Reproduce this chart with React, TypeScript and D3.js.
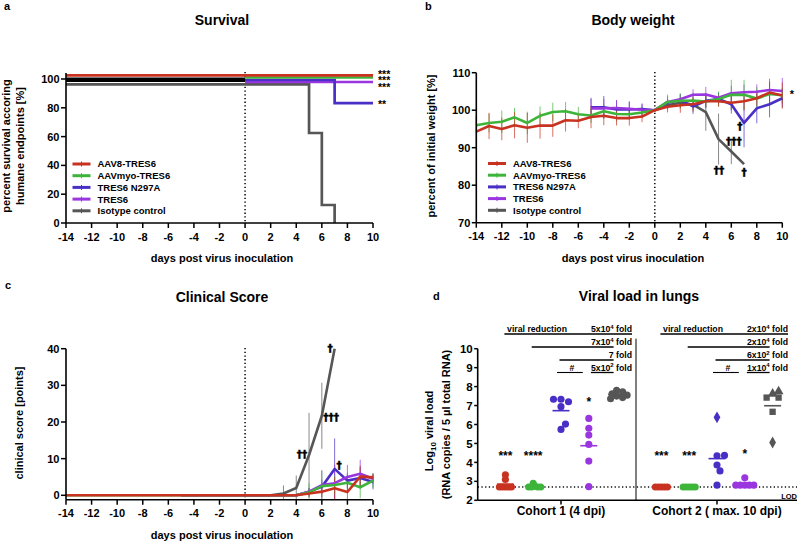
import React, { useEffect } from 'react';
import * as d3 from 'd3';

const FONT = "'Liberation Sans', Arial, Helvetica, sans-serif";
const DAGGER_FONT = "'DejaVu Sans', 'Liberation Sans', sans-serif";

const groupNames = ['AAV8-TRES6', 'AAVmyo-TRES6', 'TRES6 N297A', 'TRES6', 'Isotype control'];
const groupColors = ['#c83220', '#3db53a', '#4a2fc6', '#9a36e0', '#565656'];
const drawOrder = [4, 2, 3, 1, 0];

const dayTicks = [-14, -12, -10, -8, -6, -4, -2, 0, 2, 4, 6, 8, 10];
const daysFull = d3.range(-14, 11);
const daysLate = d3.range(-5, 11);
const daysIso = d3.range(0, 8);

// (a) Survival
const survivalTicks = [0, 20, 40, 60, 80, 100];
const survivalDays = [[-14, 10], [0, 10], [0, 7, 10], [0, 10], [-14, 5, 6, 7]];
const survivalValues = [[100, 100], [100, 100], [100, 83.3, 83.3], [100, 100], [100, 62.5, 12.5, 0]];
const survivalPreDays = [-14, 0];
const survivalStars = ['***', '***', '**', '***', ''];

// (b) Body weight
const weightTicks = [70, 80, 90, 100, 110];
const weightDays = [daysFull, daysFull, daysLate, daysLate, daysIso];
const weightValues = [
  [94.3, 95.8, 95.0, 96.0, 95.3, 95.9, 95.9, 97.3, 97.2, 98.2, 98.5, 97.9, 97.9, 98.3, 100, 100.9, 101.3, 101.6, 102.4, 102.4, 102.0, 102.4, 103.2, 104.7, 103.9],
  [96.0, 96.6, 96.9, 98.1, 96.6, 98.5, 99.5, 99.7, 98.9, 98.6, 99.7, 99.0, 98.9, 99.4, 100, 102.2, 102.5, 102.6, 102.3, 103.0, 104.1, 104.1, 103.1, 104.3, 104.0],
  [100.8, 100.8, 100.2, 100.2, 100.3, 100, 102.0, 102.7, 101.0, 102.5, 103.0, 101.6, 96.6, 100.5, 101.6, 103.2],
  [100.5, 100.5, 100.6, 100.4, 100.1, 100, 102.2, 102.9, 104.1, 104.2, 103.3, 104.5, 104.8, 104.9, 105.4, 105.1],
  [100, 101.3, 102.0, 101.5, 99.5, 92.3, 89.0, 85.6],
];
const weightErrors = [
  [4, 3.5, 3, 3.5, 4, 3.5, 3, 3, 2, 3, 2.5, 2, 2, 1.5, 0, 1.5, 2, 2, 1.5, 1.5, 2, 2.5, 2, 3, 3.5],
  [2.5, 2.5, 3, 2.5, 3, 2.5, 2.5, 2.5, 2, 2, 2, 2, 1.5, 1.5, 0, 2, 2, 2, 1.5, 2, 4, 4, 3, 3, 2],
  [2.5, 3, 2.5, 2, 1.5, 0, 1, 1.5, 2, 2, 1.5, 2.5, 6.5, 4, 3.5, 2.5],
  [2.5, 2.5, 2, 2, 1.5, 0, 1.5, 1.5, 1.5, 2, 1.5, 2, 2, 2, 3, 3.5],
  [0, 1, 1.5, 1.5, 5, 6.8, 3.4, 0],
];
const weightNotes: [number, number, string][] = [
  [6.67, 95.6, '†'], [6.2, 91.8, '†††'], [5.04, 84.0, '††'], [7.0, 83.5, '†'],
];

// (c) Clinical score
const clinicalTicks = [0, 10, 20, 30, 40];
const clinicalDays = [daysFull, daysFull, daysLate, daysLate, daysIso];
const clinicalValues = [
  [0, 0, 0, 0, 0, 0, 0, 0, 0, 0, 0, 0, 0, 0, 0, 0, 0, 0, 0, 0.5, 1.0, 1.9, 0.9, 5.1, 4.9],
  [0, 0, 0, 0, 0, 0, 0, 0, 0, 0, 0, 0, 0, 0, 0, 0, 0, 0, 0, 0.8, 2.5, 2.8, 3.4, 2.2, 4.0],
  [0, 0, 0, 0, 0, 0, 0, 0, 0, 0, 1.0, 2.3, 7.2, 4.0, 4.7, 3.6],
  [0, 0, 0, 0, 0, 0, 0, 0, 0, 0, 1.0, 2.8, 3.3, 5.0, 5.9, 4.5],
  [0, 0, 0, 0.5, 2.0, 11.0, 21.7, 40],
];
const clinicalErrors = [
  [0, 0, 0, 0, 0, 0, 0, 0, 0, 0, 0, 0, 0, 0, 0, 0, 0, 0, 0, 1, 1.5, 3, 2.5, 3, 1],
  [0, 0, 0, 0, 0, 0, 0, 0, 0, 0, 0, 0, 0, 0, 0, 0, 0, 0, 0, 2.5, 4.3, 2.5, 2.5, 3, 2],
  [0, 0, 0, 0, 0, 0, 0, 0, 0, 0, 1, 2, 8.3, 2, 3, 2],
  [0, 0, 0, 0, 0, 0, 0, 0, 0, 0, 1, 4, 5, 3.3, 3.8, 1.5],
  [0, 0, 0, 2.2, 3.4, 11.5, 9, 0],
];
const clinicalNotes: [number, number, string][] = [
  [6.64, 40.1, '†'], [6.72, 21.4, '†††'], [4.45, 11.3, '††'], [7.35, 8.3, '†'],
];

// (d) Viral load
const cohorts = ['Cohort 1 (4 dpi)', 'Cohort 2 ( max. 10 dpi)'];
const viralTicks = [2, 3, 4, 5, 6, 7, 8, 9, 10];
const lod = 2.7;
const viralValues = [
  [
    [3.35, 3.1, 2.7, 2.7, 2.7, 2.7, 2.7],
    [2.9, 2.75, 2.7, 2.7, 2.7, 2.7],
    [7.33, 7.2, 7.33, 6.94, 5.74, 6.02],
    [6.32, 5.8, 5.44, 4.95, 4.07, 2.72],
    [7.8, 7.72, 7.62, 7.55, 7.5, 7.42, 7.36],
  ],
  [
    [2.7, 2.7, 2.7, 2.7, 2.7],
    [2.7, 2.7, 2.7, 2.7, 2.7],
    [6.38, 4.35, 4.37, 3.86, 3.55, 2.8],
    [3.19, 2.8, 2.8, 2.8, 2.8, 2.8],
    [7.62, 7.75, 7.42, 7.42, 6.67, 5.05],
  ],
];
const viralShapes = [
  [['c'], ['c'], ['c'], ['c'], ['c']],
  [['c'], ['c'], ['d', 'c', 'c', 'c', 'c', 'c'], ['c'], ['t', 't', 's', 's', 's', 'd']],
];
const viralMeans = [
  [2.85, 2.74, 6.73, 4.88, 7.58],
  [2.7, 2.7, 4.2, 2.85, 6.99],
];
const viralStars = [
  [['***', 4.46], ['****', 4.46], ['', 0], ['*', 7.3], ['', 0]],
  [['***', 4.46], ['***', 4.46], ['', 0], ['*', 4.56], ['', 0]],
];
const viralSpread = [[3, 3, 6.5, 6.5, 5], [3, 3, 6.5, 3.2, 6]];
const reductionLabels = [
  ['5x10^4', '7x10^4', '7', '5x10^2'],
  ['2x10^4', '2x10^4', '6x10^2', '1x10^4'],
];
const reductionStartGroup = [0, 1, 2];

const bold = { fontWeight: 'bold' as const };

function dodge(values: number[], y: (v: number) => number, minDist: number, step = 1.5) {
  const placed: { x: number; y: number }[] = [];
  return values.map((v) => {
    const py = y(v);
    for (let k = 0; k < 80; k++) {
      const off = k === 0 ? 0 : (k % 2 ? 1 : -1) * Math.ceil(k / 2) * step;
      if (placed.every((p) => Math.hypot(p.x - off, p.y - py) >= minDist - 1e-6)) {
        placed.push({ x: off, y: py });
        return off;
      }
    }
    return 0;
  });
}

function YAxis({ x, y0, y1, ticks, scale, len = 5, size = 11 }: any) {
  return (
    <g>
      <line x1={x} x2={x} y1={y0} y2={y1} stroke="#000" strokeWidth={1.6} />
      {ticks.map((t: number) => (
        <g key={t}>
          <line x1={x - len} x2={x} y1={scale(t)} y2={scale(t)} stroke="#000" strokeWidth={1.5} />
          <text x={x - len - 1.5} y={scale(t)} dy="0.36em" textAnchor="end" fontSize={size} {...bold}>{t}</text>
        </g>
      ))}
    </g>
  );
}

function XAxis({ y, x0, x1, ticks, scale, len = 5, labelDy = 18 }: any) {
  return (
    <g>
      <line x1={x0} x2={x1} y1={y} y2={y} stroke="#000" strokeWidth={1.6} />
      {ticks.map((t: number) => (
        <g key={t}>
          <line x1={scale(t)} x2={scale(t)} y1={y} y2={y + len} stroke="#000" strokeWidth={1.5} />
          <text x={scale(t)} y={y + labelDy} textAnchor="middle" fontSize={11} {...bold}>{t}</text>
        </g>
      ))}
    </g>
  );
}

function Legend({ x, y }: { x: number; y: number }) {
  return (
    <g>
      {groupNames.map((n, i) => {
        const yy = y + i * 11.7;
        return (
          <g key={n}>
            <line x1={x} x2={x + 18} y1={yy} y2={yy} stroke={groupColors[i]} strokeWidth={3} />
            <line x1={x + 9} x2={x + 9} y1={yy - 2.5} y2={yy + 2.5} stroke={groupColors[i]} strokeWidth={1} />
            <text x={x + 25} y={yy} dy="0.36em" fontSize={9.5} {...bold}>{n}</text>
          </g>
        );
      })}
    </g>
  );
}

function RotLabel({ x, y, children, size = 11 }: any) {
  return (
    <text transform={`translate(${x},${y}) rotate(-90)`} textAnchor="middle" fontSize={size} {...bold}>
      {children}
    </text>
  );
}

function Dotted({ x1, x2, y1, y2 }: any) {
  return <line x1={x1} x2={x2} y1={y1} y2={y2} stroke="#111" strokeWidth={1.6} strokeDasharray="1.3 2.4" />;
}

function Dagger({ x, y, s }: any) {
  return (
    <text x={x} y={y} dy="0.35em" textAnchor="middle" fontSize={10.5} fontFamily={DAGGER_FONT} fill="#000"
      stroke="#000" strokeWidth={0.35} {...bold}>{s}</text>
  );
}

function PanelA() {
  const x = d3.scaleLinear().domain([-14, 10]).range([66, 373]);
  const y = d3.scaleLinear().domain([0, 100]).range([223, 79]);
  const offsets = [-3.7, -1.5, 1, 3, 5.3];
  const starShift = [-3.6, 0, -0.7, 2.9, 0];
  const yOf = (v: number, i: number) => (v >= 100 ? y(v) + offsets[i] : y(v));
  const stepPath = (i: number) => {
    const ds = survivalDays[i];
    const vs = survivalValues[i];
    const p = d3.path();
    p.moveTo(x(ds[0]), yOf(vs[0], i));
    for (let k = 1; k < ds.length; k++) {
      p.lineTo(x(ds[k]), yOf(vs[k - 1], i));
      p.lineTo(x(ds[k]), yOf(vs[k], i));
    }
    return p.toString();
  };
  const order = [4, 3, 2, 1];
  const starIdx = survivalStars.map((s, i) => i).filter((i) => survivalStars[i]);
  return (
    <g>
      <text x={4} y={10} fontSize={11} {...bold}>a</text>
      <text x={222} y={25} textAnchor="middle" fontSize={14} {...bold}>Survival</text>
      <Dotted x1={x(0)} x2={x(0)} y1={72} y2={223} />
      {order.map((i) => (
        <path key={i} d={stepPath(i)} fill="none" stroke={groupColors[i]} strokeWidth={2.7} />
      ))}
      <line x1={x(survivalPreDays[0])} x2={x(survivalPreDays[1])} y1={y(100) + 0.8} y2={y(100) + 0.8} stroke="#000" strokeWidth={4.6} />
      <path d={stepPath(0)} fill="none" stroke={groupColors[0]} strokeWidth={2.7} />
      <text fontSize={10.5} {...bold}>
        {starIdx.map((i) => (
          <tspan key={i} x={378} y={yOf(survivalValues[i][survivalValues[i].length - 1], i) + starShift[i] + 6}>
            {survivalStars[i]}
          </tspan>
        ))}
      </text>
      <YAxis x={66} y0={73} y1={223} ticks={survivalTicks} scale={y} />
      <XAxis y={223} x0={66} x1={373} ticks={dayTicks} scale={x} labelDy={17.8} />
      <text x={222} y={262} textAnchor="middle" fontSize={11} {...bold}>days post virus inoculation</text>
      <RotLabel x={10} y={146}>percent survival accoring</RotLabel>
      <RotLabel x={23.5} y={146}>humane endpoints [%]</RotLabel>
      <Legend x={72.5} y={164} />
    </g>
  );
}

function LinePanel({ x, y, days, values, errors, clampMin }: any) {
  const line = d3.line<[number, number]>().x((d) => x(d[0])).y((d) => y(d[1]));
  return (
    <g>
      {drawOrder.map((i) => (
        <g key={i}>
          {days[i].map((d: number, k: number) =>
            errors[i][k] > 0 ? (
              <line key={k} x1={x(d)} x2={x(d)} y1={y(values[i][k] + errors[i][k])} y2={y(Math.max(clampMin, values[i][k] - errors[i][k]))}
                stroke={groupColors[i]} strokeOpacity={0.7} strokeWidth={1} />
            ) : null
          )}
        </g>
      ))}
      {drawOrder.map((i) => (
        <path key={i} d={line(days[i].map((d: number, k: number) => [d, values[i][k]]))!} fill="none"
          stroke={groupColors[i]} strokeWidth={2.6} strokeLinejoin="round" />
      ))}
    </g>
  );
}

function PanelB() {
  const x = d3.scaleLinear().domain([-14, 10]).range([476.3, 782.3]);
  const y = d3.scaleLinear().domain([70, 110]).range([222.7, 72.7]);
  return (
    <g>
      <text x={425} y={10} fontSize={11} {...bold}>b</text>
      <text x={633} y={25} textAnchor="middle" fontSize={14} {...bold}>Body weight</text>
      <Dotted x1={x(0)} x2={x(0)} y1={72} y2={222.7} />
      <LinePanel x={x} y={y} days={weightDays} values={weightValues} errors={weightErrors} clampMin={70} />
      {weightNotes.map(([d, v, s], k) => (
        <Dagger key={k} x={x(d)} y={y(v)} s={s} />
      ))}
      <text x={x(10.75)} y={y(105.1) + 6.5} textAnchor="middle" fontSize={11} {...bold}>*</text>
      <YAxis x={476.3} y0={72.7} y1={222.7} ticks={weightTicks} scale={y} len={4.5} />
      <XAxis y={222.7} x0={476.3} x1={782.3} ticks={dayTicks} scale={x} labelDy={17.5} />
      <text x={633} y={262} textAnchor="middle" fontSize={11} {...bold}>days post virus inoculation</text>
      <RotLabel x={435} y={146}>percent of initial weight [%]</RotLabel>
      <Legend x={488} y={163.5} />
    </g>
  );
}

function PanelC() {
  const x = d3.scaleLinear().domain([-14, 10]).range([66, 373]);
  const y = d3.scaleLinear().domain([0, 40]).range([495.3, 348.7]);
  const axisY = y(-1.2);
  return (
    <g>
      <text x={5} y={289} fontSize={11} {...bold}>c</text>
      <text x={222} y={301.5} textAnchor="middle" fontSize={14} {...bold}>Clinical Score</text>
      <Dotted x1={x(0)} x2={x(0)} y1={348} y2={axisY} />
      <LinePanel x={x} y={y} days={clinicalDays} values={clinicalValues} errors={clinicalErrors} clampMin={-1.2} />
      {clinicalNotes.map(([d, v, s], k) => (
        <Dagger key={k} x={x(d)} y={y(v)} s={s} />
      ))}
      <YAxis x={66} y0={348.7} y1={axisY} ticks={clinicalTicks} scale={y} />
      <XAxis y={axisY} x0={66} x1={373} ticks={dayTicks} scale={x} labelDy={17.3} />
      <text x={222} y={539} textAnchor="middle" fontSize={11} {...bold}>days post virus inoculation</text>
      <RotLabel x={23} y={423}>clinical score [points]</RotLabel>
    </g>
  );
}

const symbolTypes: Record<string, any> = {
  c: d3.symbolCircle, d: d3.symbolDiamond, t: d3.symbolTriangle, s: d3.symbolSquare,
};
const symbolSizes: Record<string, number> = { c: 40, d: 40, t: 42, s: 40 };

function PanelD() {
  const y = d3.scaleLinear().domain([2, 10]).range([500.3, 348.7]);
  const xc = d3.scaleBand<string>().domain(cohorts).range([483, 795]);
  const xg = d3.scalePoint<string>().domain(groupNames).range([-55.6, 55.6]);
  const axisX = 477.7;
  const divX = 636;
  const rowY = [334, 347, 360, 372.5];
  const fs = 8.7;
  const digitW = 0.556;
  return (
    <g>
      <text x={433} y={300} fontSize={11} {...bold}>d</text>
      <text x={639} y={300.5} textAnchor="middle" fontSize={14} {...bold}>Viral load in lungs</text>
      <Dotted x1={axisX} x2={797} y1={y(lod)} y2={y(lod)} />
      <text x={797} y={498.5} textAnchor="end" fontSize={7.5} {...bold}>LOD</text>
      <line x1={divX} x2={divX} y1={338.7} y2={500.3} stroke="#000" strokeWidth={1} />
      {cohorts.map((c, ci) => {
        const cx = xc(c)! + xc.bandwidth() / 2;
        const gx = (g: number) => cx + xg(groupNames[g])!;
        const right = cx + 71;
        const numEnd = right - 18.4;
        return (
          <g key={c}>
            {viralValues[ci].map((vals, gi) => {
              const offs = dodge(vals, y, viralSpread[ci][gi]);
              const shapes = viralShapes[ci][gi];
              return (
                <g key={gi}>
                  {vals.map((v, k) => {
                    const sh = shapes[k] ?? shapes[0];
                    const path = d3.symbol().type(symbolTypes[sh]).size(symbolSizes[sh])()!;
                    return <path key={k} d={path} transform={`translate(${gx(gi) + offs[k]},${y(v)})`} fill={groupColors[gi]} />;
                  })}
                  <line x1={gx(gi) - 8.5} x2={gx(gi) + 8.5} y1={y(viralMeans[ci][gi])} y2={y(viralMeans[ci][gi])} stroke={groupColors[gi]} strokeWidth={1.6} />
                  {viralStars[ci][gi][0] ? (
                    <text x={gx(gi)} y={y(viralStars[ci][gi][1] as number) + 6.6} textAnchor="middle" fontSize={12} {...bold}>{viralStars[ci][gi][0]}</text>
                  ) : null}
                </g>
              );
            })}
            <line x1={cx} x2={cx} y1={500.3} y2={504.5} stroke="#000" strokeWidth={1.5} />
            <text x={cx} y={514.7} textAnchor="middle" fontSize={12} {...bold}>{c}</text>
            {reductionLabels[ci].map((lab, r) => {
              const [base, sup] = lab.split('^');
              const numW = base.length * digitW * fs + (sup ? sup.length * digitW * 6 : 0);
              const yy = rowY[r];
              const elems: any[] = [];
              if (r === 0) {
                elems.push(<line key="l" x1={gx(0) - 1} x2={right} y1={yy} y2={yy} stroke="#000" strokeWidth={1.3} />);
                elems.push(<text key="vr" x={gx(0) + 1.7} y={yy - 2} fontSize={fs} {...bold}>viral reduction</text>);
              } else if (r < 3) {
                elems.push(<line key="l" x1={gx(reductionStartGroup[r]) - 1.5} x2={numEnd} y1={yy} y2={yy} stroke="#000" strokeWidth={1.3} />);
              } else {
                const a = gx(2) - 4;
                const b = gx(3) - 6;
                elems.push(<line key="h" x1={a} x2={b} y1={yy} y2={yy} stroke="#000" strokeWidth={1.1} />);
                elems.push(<text key="ht" x={(a + b) / 2 + 2} y={yy - 2} textAnchor="middle" fontSize={fs} {...bold}>#</text>);
                elems.push(<line key="u" x1={numEnd - numW} x2={numEnd} y1={yy} y2={yy} stroke="#000" strokeWidth={1.3} />);
              }
              elems.push(
                <text key="t" x={right} y={yy - 1.8} textAnchor="end" fontSize={fs} {...bold}>
                  {base}
                  {sup ? <tspan dy={-3.6} fontSize={6}>{sup}</tspan> : null}
                  <tspan dy={sup ? 3.6 : 0}> fold</tspan>
                </text>
              );
              return <g key={r}>{elems}</g>;
            })}
          </g>
        );
      })}
      <line x1={axisX} x2={797} y1={500.3} y2={500.3} stroke="#000" strokeWidth={1.6} />
      <YAxis x={axisX} y0={348.7} y1={500.3} ticks={viralTicks} scale={y} len={3.5} size={11.5} />
      <text transform={`translate(433,431) rotate(-90)`} textAnchor="middle" fontSize={11} {...bold}>
        Log<tspan fontSize={8} dy={2.5}>10</tspan><tspan dy={-2.5}> viral load</tspan>
      </text>
      <RotLabel x={450} y={424.5}>(RNA copies / 5 µl total RNA)</RotLabel>
    </g>
  );
}

export default function App() {
  useEffect(() => {
    document.body.style.margin = '0';
  }, []);
  return (
    <svg width={800} height={544} style={{ position: 'absolute', left: 0, top: 0, background: '#fff' }} fontFamily={FONT}>
      <rect width={800} height={544} fill="#fff" />
      <PanelA />
      <PanelB />
      <PanelC />
      <PanelD />
    </svg>
  );
}
